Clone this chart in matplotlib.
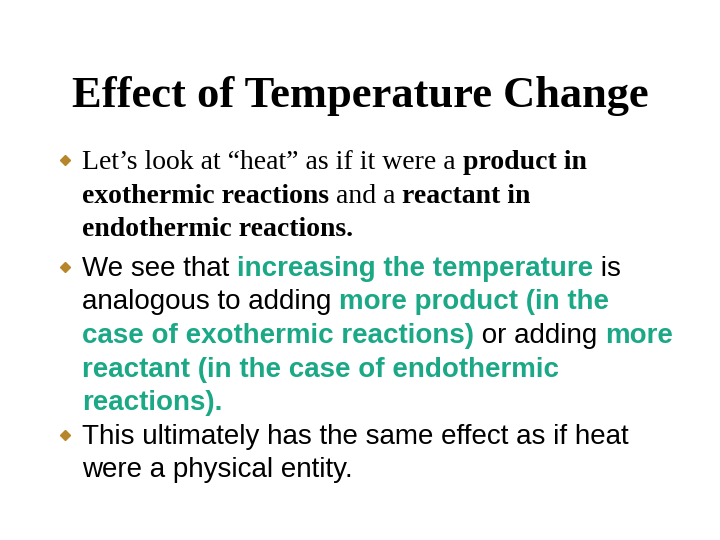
import matplotlib
matplotlib.use("Agg")
import matplotlib.pyplot as plt

TEAL = "#1aa886"
BULLET = "#b8862a"

title = "Effect of Temperature Change"

# each line: (y, has_bullet, [(text, family, bold, color), ...])
SERIF = "Liberation Serif"
SANS = "Liberation Sans"
lines = [
    (169, True, [("Let\u2019s look at \u201cheat\u201d as if it were a ", SERIF, False, "black"),
                 ("product in", SERIF, True, "black")]),
    (203, False, [("exothermic reactions", SERIF, True, "black"),
                  (" and a ", SERIF, False, "black"),
                  ("reactant in", SERIF, True, "black")]),
    (236, False, [("endothermic reactions.", SERIF, True, "black")]),
    (276, True, [("We see that ", SANS, False, "black"),
                 ("increasing the temperature", SANS, True, TEAL),
                 (" is", SANS, False, "black")]),
    (309, False, [("analogous to adding ", SANS, False, "black"),
                  ("more product (in the", SANS, True, TEAL)]),
    (343, False, [("case of exothermic reactions)", SANS, True, TEAL),
                  (" or adding ", SANS, False, "black"),
                  ("more", SANS, True, TEAL)]),
    (377, False, [("reactant (in the case of endothermic", SANS, True, TEAL)]),
    (410, False, [("reactions).", SANS, True, TEAL)]),
    (444, True, [("This ultimately has the same effect as if heat", SANS, False, "black")]),
    (477, False, [("were a physical entity.", SANS, False, "black")]),
]

fig = plt.figure(figsize=(7.2, 5.4), dpi=100)
ax = fig.add_axes([0, 0, 1, 1])
ax.set_xlim(0, 720)
ax.set_ylim(540, 0)
ax.axis("off")

ax.text(360, 96, title, ha="center", va="center", family=SERIF,
        weight="bold", fontsize=32)

renderer = fig.canvas.get_renderer()
for y, bullet, segs in lines:
    if bullet:
        ax.plot(65, y - 9, marker="D", color=BULLET, markersize=5.5)
    x = 82
    for txt, fam, bold, col in segs:
        t = ax.text(x, y, txt, ha="left", va="baseline", family=fam,
                    weight="bold" if bold else "normal", color=col,
                    fontsize=20)
        bb = t.get_window_extent(renderer=renderer)
        x += bb.width

fig.savefig("out.png", dpi=100)
